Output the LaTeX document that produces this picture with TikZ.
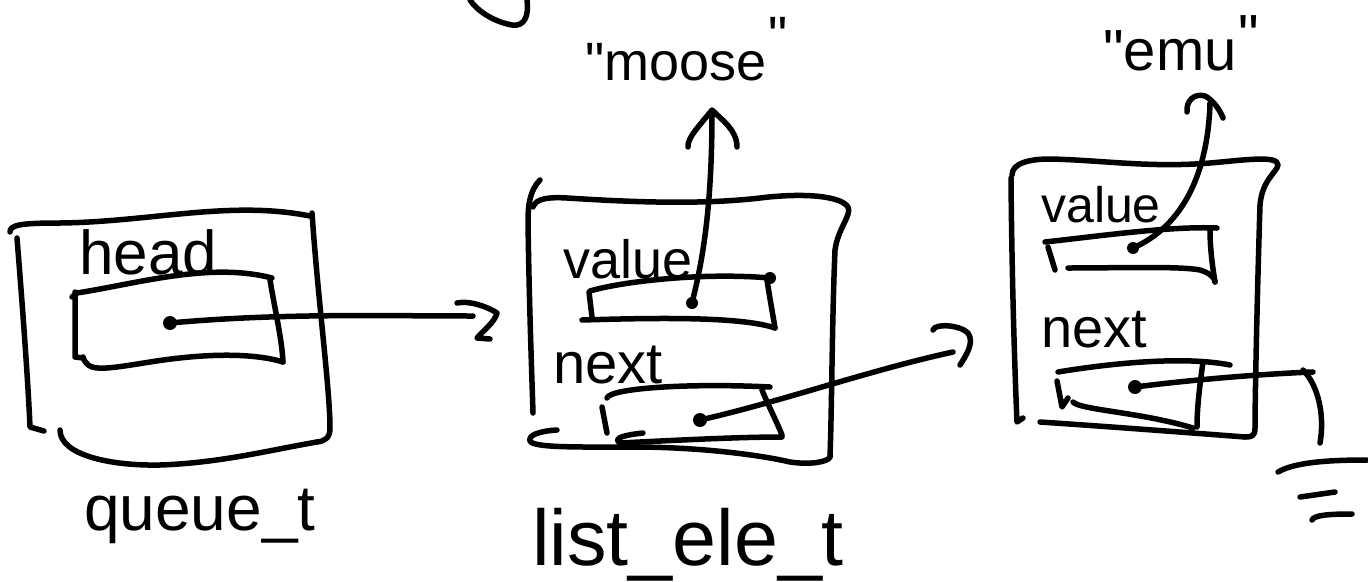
\documentclass[tikz,border=0pt]{standalone}
\usepackage{fontspec}
\setmainfont{Liberation Sans}
\newcommand{\dq}{\textquotedbl}
\begin{document}
\begin{tikzpicture}[x=1pt,y=-1pt,
  ink/.style={draw=black, line width=5.5pt, line cap=round, line join=round},
  lbl/.style={inner sep=0pt, anchor=base west, text=black}]
\fill[white] (0,0) rectangle (1368,581);
\useasboundingbox (0,0) rectangle (1368,581);

% fragment at the top
\draw[ink] (470,0) .. controls (478,12) and (495,22) .. (512,25) .. controls (525,27) and (529,15) .. (527,0);

% ---------- queue_t ----------
\draw[ink] (10,232) .. controls (10,225) and (20,223) .. (60,223) .. controls (150,222) and (230,200) .. (310,216);
\draw[ink] (17,238) .. controls (22,300) and (28,380) .. (30,427) -- (44,431);
\draw[ink] (312,213) .. controls (318,300) and (330,390) .. (330,428) .. controls (330,438) and (325,441) .. (317,442);
\draw[ink] (60,430) .. controls (60,455) and (110,466) .. (160,465) .. controls (220,463) and (270,450) .. (317,442);
% head field
\draw[ink] (72,297) -- (77,293) .. controls (140,283) and (210,262) .. (272,278);
\draw[ink] (75,292) -- (75,357) -- (83,358);
\draw[ink] (83,357) .. controls (88,372) and (100,370) .. (150,362) .. controls (200,354) and (250,352) .. (283,362);
\draw[ink] (270,280) .. controls (275,310) and (282,340) .. (283,362);
\node[lbl, font=\fontsize{62}{62}\selectfont] (head) at (79,274) {head};
\coordinate (d1) at (170,323);
\coordinate (a1) at (473,316);
\fill (d1) circle (7);
\draw[ink] (d1) .. controls (280,313) and (380,316) .. (a1);
\draw[ink] (457,303) .. controls (470,300) and (490,308) .. (497,313) .. controls (495,322) and (482,332) .. (477,338) -- (490,339);
\node[lbl, font=\fontsize{64}{64}\selectfont] (queue) at (84,530) {queue\_t};

% ---------- list_ele_t (1) ----------
\draw[ink] (540,180) .. controls (530,190) and (528,205) .. (528,220) .. controls (529,300) and (532,380) .. (533,413);
\draw[ink] (533,207) .. controls (536,198) and (550,197) .. (567,198) .. controls (630,202) and (700,205) .. (760,198) .. controls (800,193) and (840,195) .. (848,207) .. controls (852,215) and (838,228) .. (835,250) .. controls (832,320) and (832,400) .. (830,457);
\draw[ink] (557,430) .. controls (540,431) and (528,435) .. (530,441) .. controls (533,448) and (580,447) .. (633,447) .. controls (700,447) and (760,455) .. (790,462) .. controls (810,465) and (828,462) .. (830,457);
% value field
\draw[ink] (590,291) .. controls (620,282) and (700,272) .. (770,278);
\draw[ink] (589,292) -- (592,317);
\draw[ink] (582,320) .. controls (650,318) and (740,316) .. (775,328);
\draw[ink] (767,280) .. controls (770,300) and (773,315) .. (775,328);
\fill (770,278) circle (6);
\node[lbl, font=\fontsize{54}{54}\selectfont] (value1) at (563,278) {value};
\coordinate (d2v) at (692,303);
\coordinate (t2v) at (712,112);
\fill (d2v) circle (6);
\draw[ink] (d2v) .. controls (700,270) and (712,220) .. (t2v);
\draw[ink] (688,147) .. controls (687,138) and (700,125) .. (712,110) .. controls (722,120) and (737,130) .. (737,147);
\node[lbl, font=\fontsize{54}{54}\selectfont] (moose) at (585,80) {\dq moose\kern2pt\raisebox{26pt}{\dq}};
% next field
\draw[ink] (607,398) .. controls (610,388) and (690,383) .. (770,387);
\draw[ink] (602,407) -- (607,433);
\draw[ink] (762,390) .. controls (768,405) and (776,420) .. (782,435);
\draw[ink] (643,433) .. controls (625,435) and (612,438) .. (620,443) .. controls (680,440) and (740,437) .. (782,437);
\node[lbl, font=\fontsize{58}{58}\selectfont] (next1) at (553,383) {next};
\coordinate (d2n) at (700,420);
\coordinate (t2n) at (953,352);
\fill (d2n) circle (7);
\draw[ink] (d2n) .. controls (780,402) and (870,370) .. (t2n);
\draw[ink] (933,330) .. controls (935,323) and (960,325) .. (968,333) .. controls (975,343) and (965,357) .. (960,365);
\node[lbl, font=\fontsize{79}{79}\selectfont] (listele) at (532,565) {list\_ele\_t};

% ---------- list_ele_t (2) ----------
\draw[ink] (1012,175) .. controls (1012,163) and (1030,159) .. (1050,159) .. controls (1100,160) and (1150,168) .. (1210,163) .. controls (1245,160) and (1278,155) .. (1278,165) .. controls (1277,172) and (1262,180) .. (1260,205) .. controls (1257,300) and (1255,400) .. (1255,428) .. controls (1255,436) and (1252,437) .. (1245,437);
\draw[ink] (1011,178) .. controls (1012,300) and (1016,400) .. (1017,422) -- (1023,418);
\draw[ink] (1040,422) .. controls (1100,426) and (1180,432) .. (1245,437);
% value field
\draw[ink] (1045,242) .. controls (1100,236) and (1170,226) .. (1217,228);
\draw[ink] (1048,247) -- (1055,270);
\draw[ink] (1068,268) .. controls (1120,268) and (1180,266) .. (1200,270) .. controls (1210,273) and (1215,278) .. (1215,282);
\draw[ink] (1210,230) .. controls (1210,250) and (1213,270) .. (1215,282);
\node[lbl, font=\fontsize{50}{50}\selectfont] (value2) at (1041,222) {value};
\coordinate (d3v) at (1133,248);
\coordinate (t3v) at (1210,103);
\fill (d3v) circle (6);
\draw[ink] (d3v) .. controls (1185,225) and (1208,170) .. (t3v);
\draw[ink] (1187,112) .. controls (1186,100) and (1195,93) .. (1205,96) .. controls (1213,100) and (1220,110) .. (1223,118);
\node[lbl, font=\fontsize{58}{58}\selectfont] (emu) at (1103,70) {\dq emu\kern2pt\raisebox{15pt}{\dq}};
% next field
\draw[ink] (1058,372) .. controls (1100,365) and (1180,355) .. (1230,365);
\draw[ink] (1057,381) -- (1062,407) -- (1068,398);
\draw[ink] (1073,402) .. controls (1080,410) and (1140,412) .. (1193,428);
\draw[ink] (1203,362) .. controls (1199,390) and (1197,410) .. (1197,427);
\node[lbl, font=\fontsize{56}{56}\selectfont] (next2) at (1041,347) {next};
\coordinate (d3n) at (1135,387);
\coordinate (n3) at (1313,372);
\coordinate (g3) at (1320,443);
\fill (d3n) circle (7);
\draw[ink] (d3n) .. controls (1190,380) and (1260,374) .. (n3);
\draw[ink] (1303,370) .. controls (1318,385) and (1325,415) .. (g3);
% ground
\draw[ink] (1278,472) .. controls (1295,462) and (1330,460) .. (1367,460);
\draw[ink] (1300,497) -- (1335,492);
\draw[ink] (1312,520) .. controls (1314,515) and (1330,514) .. (1352,514);
\end{tikzpicture}
\end{document}
